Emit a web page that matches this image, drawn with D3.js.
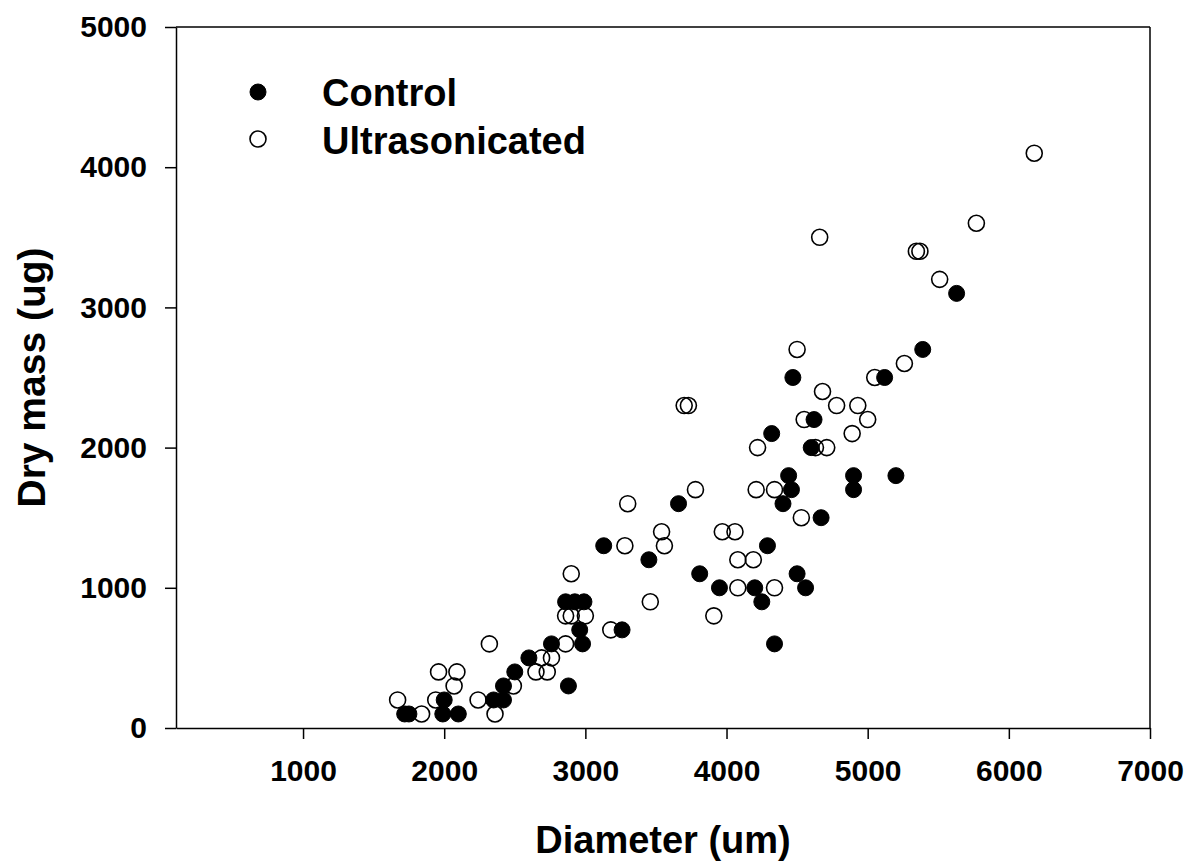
<!DOCTYPE html>
<html>
<head>
<meta charset="utf-8">
<script src="https://cdn.jsdelivr.net/npm/d3@7"></script>
<style>
  html, body { margin: 0; padding: 0; background: #fff; }
  svg { display: block; }
  text { font-family: "Liberation Sans", Arial, sans-serif; font-weight: bold; fill: #000; }
</style>
</head>
<body>
<svg id="chart" width="1192" height="863"></svg>
<script>
// ---- Data ----
const controlX = [1720, 1750, 1990, 2100, 2000, 2350, 2420, 2420, 2500, 2600, 2760, 2880,
  2860, 2925, 2990, 2960, 2980, 3130, 3260, 3450, 3660, 3810, 3950, 4200, 4250, 4340,
  4290, 4320, 4400, 4440, 4460, 4470, 4500, 4560, 4600, 4620, 4670, 4900, 4900, 5120,
  5200, 5390, 5630];
const controlY = [100, 100, 100, 100, 200, 200, 200, 300, 400, 500, 600, 300,
  900, 900, 900, 700, 600, 1300, 700, 1200, 1600, 1100, 1000, 1000, 900, 600,
  1300, 2100, 1600, 1800, 1700, 2500, 1100, 1000, 2000, 2200, 1500, 1800, 1700, 2500,
  1800, 2700, 3100];

const ultraX = [1670, 1840, 1940, 1960, 2070, 2090, 2240, 2320, 2360, 2490, 2650, 2730,
  2690, 2760, 2860, 2860, 2900, 3000, 2900, 3180, 3280, 3300, 3460, 3540, 3560, 3700,
  3730, 3780, 3910, 3970, 4060, 4080, 4190, 4080, 4340, 4210, 4340, 4220, 4530, 4500,
  4550, 4630, 4710, 4660, 4680, 4780, 4930, 4890, 5000, 5050, 5260, 5345, 5370, 5510,
  5770, 6180];
const ultraY = [200, 100, 200, 400, 300, 400, 200, 600, 100, 300, 400, 400,
  500, 500, 600, 800, 800, 800, 1100, 700, 1300, 1600, 900, 1400, 1300, 2300,
  2300, 1700, 800, 1400, 1400, 1200, 1200, 1000, 1000, 1700, 1700, 2000, 1500, 2700,
  2200, 2000, 2000, 3500, 2400, 2300, 2300, 2100, 2200, 2500, 2600, 3400, 3400, 3200,
  3600, 4100];

const xTicks = [1000, 2000, 3000, 4000, 5000, 6000, 7000];
const xTickLabels = ["1000", "2000", "3000", "4000", "5000", "6000", "7000"];
const yTicks = [0, 1000, 2000, 3000, 4000, 5000];
const yTickLabels = ["0", "1000", "2000", "3000", "4000", "5000"];
const seriesNames = ["Control", "Ultrasonicated"];
const xTitle = "Diameter (um)";
const yTitle = "Dry mass (ug)";

// ---- Layout ----
const svg = d3.select("#chart");
const L = 176, R = 1150, T = 27, B = 728;
const x = d3.scaleLinear().domain([100, 7000]).range([L, R]);
const y = d3.scaleLinear().domain([0, 5000]).range([B, T]);

const tickFont = 30;

// Frame (top and right)
svg.append("line").attr("x1", L).attr("x2", R).attr("y1", T).attr("y2", T)
  .attr("stroke", "#000").attr("stroke-width", 1.5);
svg.append("line").attr("x1", R).attr("x2", R).attr("y1", T).attr("y2", B)
  .attr("stroke", "#000").attr("stroke-width", 1.5);

// X axis
const gx = svg.append("g").attr("transform", `translate(0,${B})`)
  .call(d3.axisBottom(x).tickValues(xTicks)
    .tickFormat((d, i) => xTickLabels[i])
    .tickSize(11).tickSizeOuter(0).tickPadding(21));
gx.selectAll("path, line").attr("stroke", "#000").attr("stroke-width", 1.5);
gx.selectAll("text").attr("font-size", tickFont)
  .style("font-family", '"Liberation Sans", Arial, sans-serif').style("font-weight", "bold").attr("fill", "#000");

// Y axis
const gy = svg.append("g").attr("transform", `translate(${L},0)`)
  .call(d3.axisLeft(y).tickValues(yTicks)
    .tickFormat((d, i) => yTickLabels[i])
    .tickSize(11).tickSizeOuter(0).tickPadding(18));
gy.selectAll("path, line").attr("stroke", "#000").attr("stroke-width", 1.5);
gy.selectAll("text").attr("font-size", tickFont)
  .style("font-family", '"Liberation Sans", Arial, sans-serif').style("font-weight", "bold").attr("fill", "#000");

// Axis titles
svg.append("text").attr("x", (L + R) / 2).attr("y", 853)
  .attr("text-anchor", "middle").attr("font-size", 38).text(xTitle);
svg.append("text").attr("transform", `translate(45,${(T + B) / 2}) rotate(-90)`)
  .attr("text-anchor", "middle").attr("font-size", 39).text(yTitle);

// Points
const r = 8;
const ultra = ultraX.map((v, i) => ({ x: v, y: ultraY[i] }));
const control = controlX.map((v, i) => ({ x: v, y: controlY[i] }));

svg.append("g").selectAll("circle").data(ultra).join("circle")
  .attr("cx", d => x(d.x)).attr("cy", d => y(d.y)).attr("r", r)
  .attr("fill", "none").attr("stroke", "#000").attr("stroke-width", 1.6);

svg.append("g").selectAll("circle").data(control).join("circle")
  .attr("cx", d => x(d.x)).attr("cy", d => y(d.y)).attr("r", r)
  .attr("fill", "#000").attr("stroke", "#000").attr("stroke-width", 1);

// Legend
const leg = svg.append("g");
leg.append("circle").attr("cx", 258).attr("cy", 92).attr("r", r)
  .attr("fill", "#000").attr("stroke", "#000");
leg.append("circle").attr("cx", 258).attr("cy", 139).attr("r", r)
  .attr("fill", "none").attr("stroke", "#000").attr("stroke-width", 1.6);
leg.append("text").attr("x", 322).attr("y", 92).attr("dy", "0.36em")
  .attr("font-size", 38).text(seriesNames[0]);
leg.append("text").attr("x", 322).attr("y", 140).attr("dy", "0.36em")
  .attr("font-size", 38).text(seriesNames[1]);
</script>
</body>
</html>
